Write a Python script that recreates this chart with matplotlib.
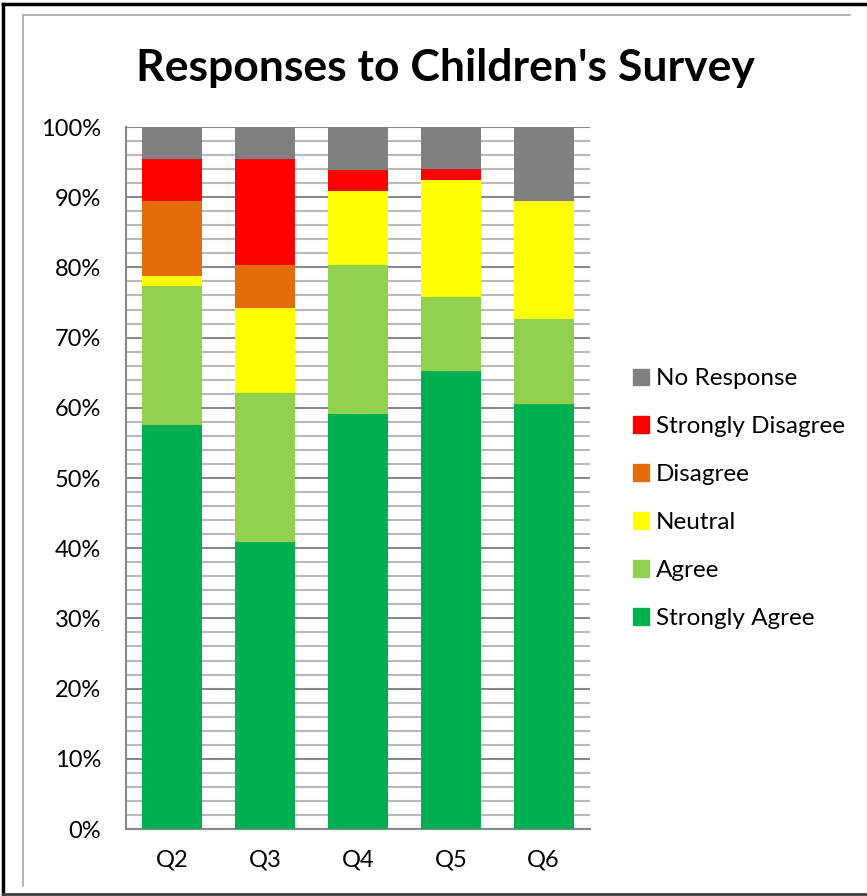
import numpy as np
import matplotlib.pyplot as plt
from matplotlib.patches import Rectangle
from matplotlib.lines import Line2D
from matplotlib.ticker import MultipleLocator, PercentFormatter

questions = ["Q2", "Q3", "Q4", "Q5", "Q6"]
categories = ["Strongly Agree", "Agree", "Neutral", "Disagree",
              "Strongly Disagree", "No Response"]
strongly_agree = [57.6, 40.9, 59.1, 65.2, 60.6]
agree = [19.7, 21.2, 21.2, 10.6, 12.1]
neutral = [1.5, 12.1, 10.6, 16.7, 16.7]
disagree = [10.6, 6.1, 0.0, 0.0, 0.0]
strongly_disagree = [6.1, 15.2, 3.0, 1.5, 0.0]
no_response = [4.5, 4.5, 6.1, 6.1, 10.6]
colors = ["#00B050", "#92D050", "#FFFF00", "#E46C0A", "#FF0000", "#808080"]

series = [strongly_agree, agree, neutral, disagree, strongly_disagree, no_response]

font = ["Lato", "DejaVu Sans"]
plt.rcParams['font.family'] = font

W, H = 867, 896
fig = plt.figure(figsize=(W / 100, H / 100), dpi=100)

# outer frames (black border, grey chart-area edge)
fig.add_artist(Line2D([3 / W, 3 / W], [1 - 4 / H, 1 - 894 / H], color="black", lw=2.5))
fig.add_artist(Line2D([3 / W, 1], [1 - 4 / H, 1 - 4 / H], color="black", lw=2.5))
fig.add_artist(Line2D([3 / W, 1], [1 - 894 / H, 1 - 894 / H], color="#404040", lw=2))
fig.add_artist(Line2D([23 / W, 23 / W], [1 - 15 / H, 1 - 886 / H], color="#a6a6a6", lw=1.2))
fig.add_artist(Line2D([23 / W, 850 / W], [1 - 15 / H, 1 - 15 / H], color="#a6a6a6", lw=1.2))

ax = fig.add_axes([126 / W, 1 - 829 / H, (590 - 126) / W, (829 - 127) / H])

x = np.arange(len(questions))
bottom = np.zeros(len(questions))
for vals, c, lab in zip(series, colors, categories):
    ax.bar(x, vals, width=0.645, bottom=bottom, color=c, label=lab,
           linewidth=0, zorder=3)
    bottom += np.array(vals)

ax.set_xlim(-0.5, len(questions) - 0.5)
ax.set_ylim(0, 100)
ax.yaxis.set_major_locator(MultipleLocator(10))
ax.yaxis.set_minor_locator(MultipleLocator(2))
ax.yaxis.set_major_formatter(PercentFormatter(decimals=0))
ax.grid(axis="y", which="minor", color="#b9b9b9", lw=1.5, zorder=0)
ax.grid(axis="y", which="major", color="#888888", lw=1.5, zorder=1)
ax.set_xticks(x)
ax.set_xticklabels(questions)
ax.tick_params(axis="y", which="both", length=0, pad=18, labelsize=17)
ax.tick_params(axis="x", length=0, pad=15, labelsize=17)
for s in ["top", "right"]:
    ax.spines[s].set_visible(False)
for s in ["left", "bottom"]:
    ax.spines[s].set_color("#888888")
    ax.spines[s].set_linewidth(1.5)

fig.text(445 / W, 1 - 68 / H, "Responses to Children's Survey", ha="center",
         va="center", fontsize=32, fontweight="bold")

handles = [Rectangle((0, 0), 1, 1, color=c) for c in colors][::-1]
fig.legend(handles, categories[::-1], loc="upper left",
           bbox_to_anchor=(621 / W, 1 - 356 / H), frameon=False,
           fontsize=17.5, handlelength=0.65, handleheight=0.65,
           handletextpad=0.3, labelspacing=1.11, borderpad=0)

fig.savefig("out.png", dpi=100)
